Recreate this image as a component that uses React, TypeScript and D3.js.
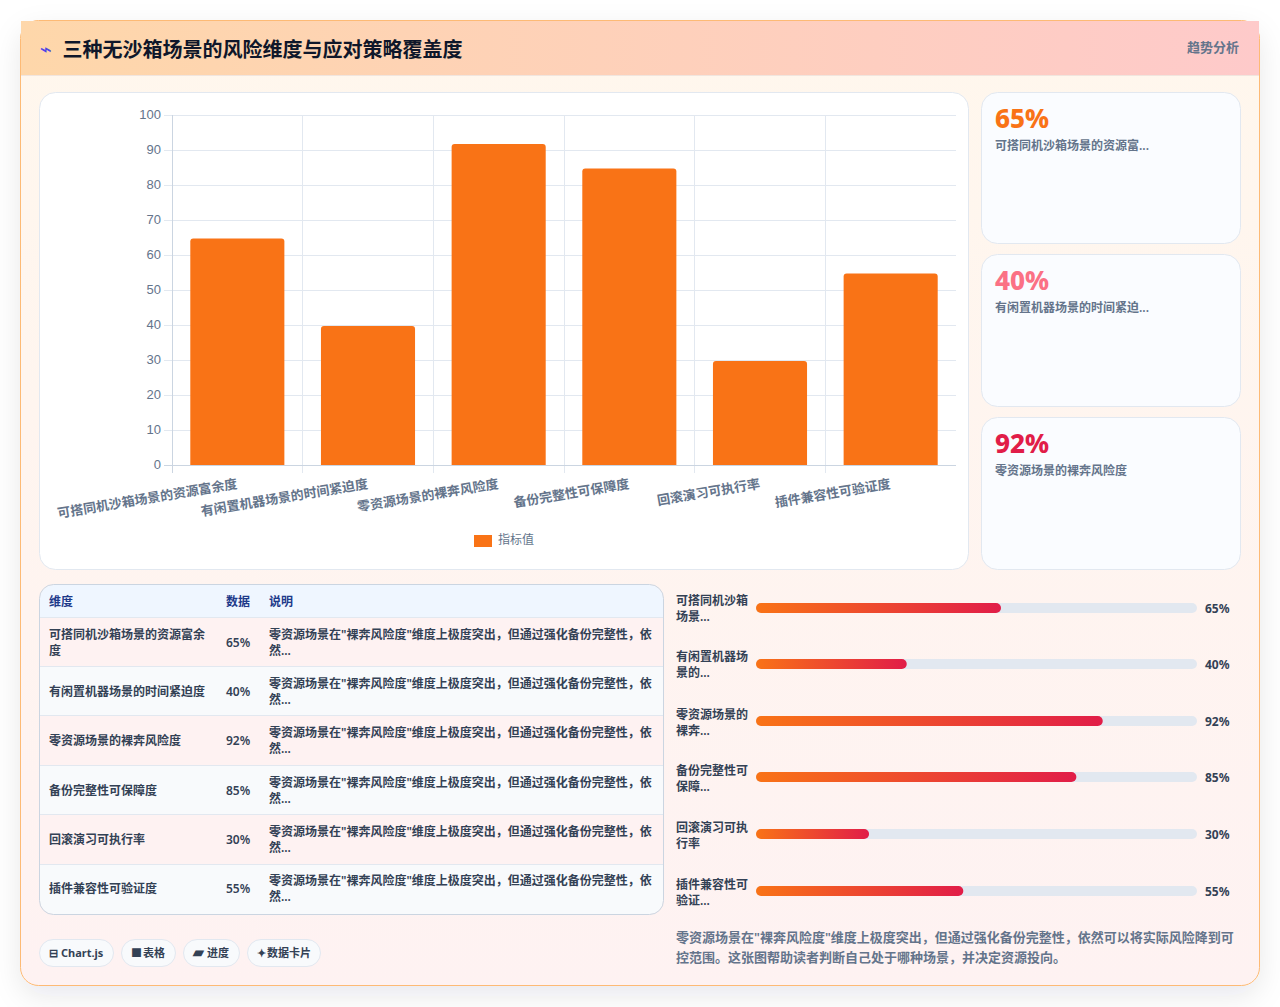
import React from "react";
import * as d3 from "d3";

const categories = ["可搭同机沙箱场景的资源富余度", "有闲置机器场景的时间紧迫度", "零资源场景的裸奔风险度", "备份完整性可保障度", "回滚演习可执行率", "插件兼容性可验证度"];
const values = [65, 40, 92, 85, 30, 55];
const tableNameLines = [["可搭同机沙箱场景的资源富余", "度"], ["有闲置机器场景的时间紧迫度"], ["零资源场景的裸奔风险度"], ["备份完整性可保障度"], ["回滚演习可执行率"], ["插件兼容性可验证度"]];
const noteLines = ["零资源场景在\"裸奔风险度\"维度上极度突出，但通过强化备份完整性，依", "然..."];
const progressLabels = [["可搭同机沙箱", "场景..."], ["有闲置机器场", "景的..."], ["零资源场景的", "裸奔..."], ["备份完整性可", "保障..."], ["回滚演习可执", "行率"], ["插件兼容性可", "验证..."]];
const cardLabels = ["可搭同机沙箱场景的资源富...", "有闲置机器场景的时间紧迫...", "零资源场景的裸奔风险度"];
const cardValues = ["65%", "40%", "92%"];
const cardColors = ["#f97316", "#fb7185", "#e11d48"];
const chipIcons = ["⊟", "■", "▰", "✦"];
const chipTexts = ["Chart.js", "表格", "进度", "数据卡片"];
const summary = ["零资源场景在\"裸奔风险度\"维度上极度突出，但通过强化备份完整性，依然可以将实际风险降到可", "控范围。这张图帮助读者判断自己处于哪种场景，并决定资源投向。"];
const yTicks = d3.range(0, 101, 10);

const FONT = "'Noto Sans','Noto Sans CJK SC',sans-serif";
const AXIS_FONT = "'Liberation Sans','Noto Sans CJK SC',sans-serif";

const x = d3.scaleBand<string>().domain(categories).range([172, 956]);
const y = d3.scaleLinear().domain([0, 100]).range([465, 115]);
const barW = x.bandwidth() * 0.72;
const progX = d3.scaleLinear().domain([0, 117]).range([756, 1197]);
const rowEdges = d3.range(0, 7).map((k) => 617 + k * 49.4);
const rowBaselines = d3.range(0, 6).map((k) => 639 + k * 49.2);
const progY = [608, 664, 721, 777, 834, 891];
const progLabelY = [608, 664, 722, 778, 835, 892];
const cardTops = [92, 254, 417];
const cardHeights = [151, 152, 152];
const chipBoxes = [[39, 74], [121, 54], [183, 56], [247, 73]];
const chipTextX = [61, 143, 207, 267];

export default function App() {
  return (
    <svg width={1280} height={1007} viewBox="0 0 1280 1007" style={{ position: "absolute", left: 0, top: 0, fontFamily: FONT }}>
      <defs>
        <linearGradient id="cardBg" x1="0" y1="0" x2="0" y2="1">
          <stop offset="0" stopColor="#fff7ed" />
          <stop offset="1" stopColor="#fef2f2" />
        </linearGradient>
        <linearGradient id="headBg" x1="0" y1="0" x2="1" y2="0">
          <stop offset="0" stopColor="#fed7aa" />
          <stop offset="1" stopColor="#fecaca" />
        </linearGradient>
        <linearGradient id="fill" x1="0" y1="0" x2="1" y2="0">
          <stop offset="0" stopColor="#f97316" />
          <stop offset="1" stopColor="#e11d48" />
        </linearGradient>
        <filter id="shadow" x="-5%" y="-5%" width="110%" height="110%">
          <feDropShadow dx="0" dy="10" stdDeviation="14" floodColor="#0f172a" floodOpacity="0.09" />
        </filter>
        <clipPath id="tableClip"><rect x={40} y={585} width={623} height={329} rx={14} /></clipPath>
      </defs>

      <rect x={20.5} y={20.5} width={1239} height={965} rx={18} fill="url(#cardBg)" stroke="#fdba74" filter="url(#shadow)" />
      <rect x={21} y={21} width={1238} height={54} fill="url(#headBg)" />
      <line x1={21} x2={1259} y1={75.5} y2={75.5} stroke="#f1e5de" />
      <text x={40} y={56} fontSize={20} fill="#4f46e5" fontFamily="'DejaVu Sans'">⌁</text>
      <text x={62.5} y={56.5} fontSize={20} fontWeight={700} fill="#0f172a">三种无沙箱场景的风险维度与应对策略覆盖度</text>
      <text x={1239} y={52} fontSize={13} fontWeight={600} fill="#64748b" textAnchor="end">趋势分析</text>

      <rect x={39.5} y={92.5} width={929} height={477} rx={16} fill="#fff" stroke="#e2e8f0" />
      {yTicks.map((t) => (
        <g key={t}>
          <line x1={164} x2={956} y1={y(t) + 0.5} y2={y(t) + 0.5} stroke="#e2e8f0" />
          <text x={161} y={y(t) - 0.5} dy="0.35em" textAnchor="end" fontSize={13} fill="#64748b" fontFamily={AXIS_FONT}>{t}</text>
        </g>
      ))}
      {categories.map((c, i) => (
        <line key={c} x1={Math.floor(x(c)!) + 0.5} x2={Math.floor(x(c)!) + 0.5} y1={115} y2={473} stroke={i === 0 ? "#cbd5e1" : "#e2e8f0"} />
      ))}
      <line x1={164} x2={956} y1={465.5} y2={465.5} stroke="#cbd5e1" />
      {categories.map((c, i) => {
        const cx = x(c)! + x.bandwidth() / 2;
        return (
          <path
            key={c}
            d={`M${cx - barW / 2},${y(0)}V${y(values[i]) + 4}q0,-3 3,-3H${cx + barW / 2 - 3}q3,0 3,3V${y(0)}Z`}
            fill="#f97316"
          />
        );
      })}
      {categories.map((c) => {
        const cx = x(c)! + x.bandwidth() / 2;
        return (
          <text key={c} transform={`translate(${cx + 0.5},${488}) rotate(-9.5)`} textAnchor="end" fontSize={13} fontWeight={600} fill="#64748b">{c}</text>
        );
      })}
      <rect x={474} y={535} width={18} height={12} fill="#f97316" />
      <text x={498} y={544} fontSize={12} fill="#64748b">指标值</text>

      {cardLabels.map((l, i) => (
        <g key={l}>
          <rect x={981.5} y={cardTops[i] + 0.5} width={259} height={cardHeights[i]} rx={16} fill="#fafcff" stroke="#e2e8f0" />
          <text x={995} y={cardTops[i] + 36} fontSize={26} fontWeight={800} fill={cardColors[i]}>{cardValues[i]}</text>
          <text x={995} y={cardTops[i] + 58} fontSize={12} fontWeight={600} fill="#64748b">{l}</text>
        </g>
      ))}

      <g clipPath="url(#tableClip)">
        <rect x={40} y={585} width={623} height={32} fill="#eff6ff" />
        {categories.map((c, i) => (
          <rect key={c} x={40} y={rowEdges[i]} width={623} height={rowEdges[i + 1] - rowEdges[i] + 1} fill={i % 2 ? "#f8fafc" : "#fef2f2"} />
        ))}
        {rowEdges.slice(0, -1).map((e) => (
          <line key={e} x1={40} x2={663} y1={Math.floor(e) + 0.5} y2={Math.floor(e) + 0.5} stroke="#e2e8f0" />
        ))}
      </g>
      <rect x={39.5} y={584.5} width={624} height={330} rx={14} fill="none" stroke="#cbd5e1" />
      <text x={49} y={606} fontSize={12} fontWeight={700} fill="#1e3a8a">维度</text>
      <text x={226} y={606} fontSize={12} fontWeight={700} fill="#1e3a8a">数据</text>
      <text x={269} y={606} fontSize={12} fontWeight={700} fill="#1e3a8a">说明</text>
      {categories.map((c, i) => {
        const base = rowBaselines[i];
        const lines = tableNameLines[i];
        return (
          <g key={c} fontSize={12} fontWeight={600} fill="#334155">
            {lines.map((t, j) => (
              <text key={j} x={49} y={base + (lines.length === 1 ? 8 : 0) + j * 16}>{t}</text>
            ))}
            <text x={226} y={base + 8}>{values[i]}%</text>
            {noteLines.map((t, j) => (
              <text key={j} x={269} y={base + j * 16}>{t}</text>
            ))}
          </g>
        );
      })}

      {chipBoxes.map((b, i) => (
        <g key={i}>
          <rect x={b[0] + 0.5} y={939.5} width={b[1]} height={27} rx={13.5} fill="#f8fafc" stroke="#e2e8f0" />
          <text x={b[0] + 10} y={957} fontSize={i === 2 ? 14 : 11} fontWeight={700} fill="#334155">{chipIcons[i]}</text>
          <text x={chipTextX[i]} y={957} fontSize={11} fontWeight={700} fill="#334155">{chipTexts[i]}</text>
        </g>
      ))}

      {categories.map((c, i) => (
        <g key={c}>
          {progressLabels[i].map((t, j) => (
            <text key={j} x={676} y={progLabelY[i] - 3.5 + j * 16} fontSize={12} fontWeight={600} fill="#334155">{t}</text>
          ))}
          <rect x={progX(0)} y={progY[i] - 5} width={progX(117) - progX(0)} height={10} rx={5} fill="#e2e8f0" />
          <rect x={progX(0)} y={progY[i] - 5} width={progX(values[i]) - progX(0)} height={10} rx={5} fill="url(#fill)" />
          <text x={1205} y={progY[i] + 4.5} fontSize={12} fontWeight={700} fill="#334155">{values[i]}%</text>
        </g>
      ))}
      {summary.map((t, i) => (
        <text key={i} x={676} y={941.5 + i * 20} fontSize={13} fontWeight={600} fill="#64748b">{t}</text>
      ))}
    </svg>
  );
}
